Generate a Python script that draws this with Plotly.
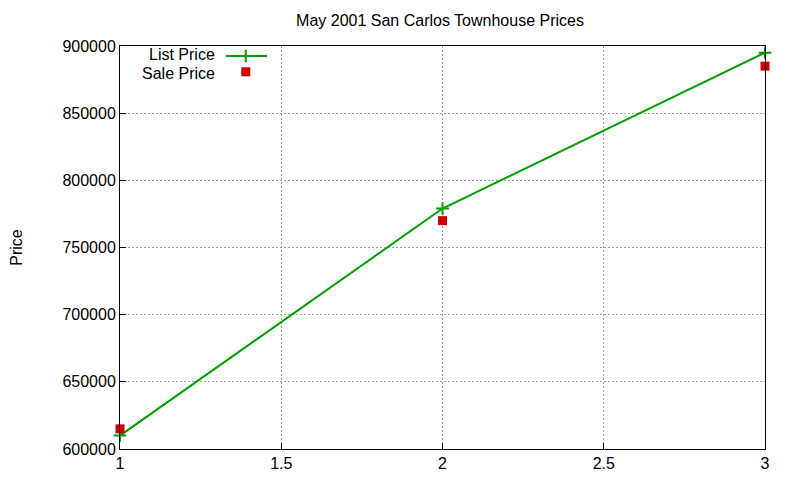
import plotly.graph_objs as go

# data
models = [1, 2, 3]
list_price = [610000, 779000, 895000]
sale_price = [615000, 770000, 885000]

y_ticks = [600000, 650000, 700000, 750000, 800000, 850000, 900000]
x_ticks = [1, 1.5, 2, 2.5, 3]

GREEN = "#00a000"
RED = "#d00000"
FONT = "Liberation Sans, Arial, sans-serif"


def make_axis(**kw):
    axis = dict(
        showline=True,
        linecolor="black",
        linewidth=1,
        mirror=True,
        ticks="inside",
        ticklen=6,
        tickcolor="black",
        showgrid=True,
        gridcolor="#a0a0a0",
        griddash="2px,2px",
        gridwidth=1,
        zeroline=False,
        automargin=False,
        tickfont=dict(size=16, color="black"),
    )
    axis.update(kw)
    return axis


fig = go.Figure()

fig.add_trace(
    go.Scatter(
        x=models,
        y=list_price,
        mode="lines+markers",
        name="List Price",
        line=dict(color=GREEN, width=2),
        marker=dict(symbol="cross-thin", size=9, line=dict(color=GREEN, width=2)),
        cliponaxis=False,
        showlegend=False,
    )
)
fig.add_trace(
    go.Scatter(
        x=models,
        y=sale_price,
        mode="markers",
        name="Sale Price",
        marker=dict(symbol="square", size=9, color=RED),
        cliponaxis=False,
        showlegend=False,
    )
)

# gnuplot-style key: text on the left, sample on the right (drawn on a hidden 0..1 axis)
fig.add_trace(
    go.Scatter(
        x=[0.164, 0.228],
        y=[0.975, 0.975],
        mode="lines",
        line=dict(color=GREEN, width=2),
        xaxis="x2",
        yaxis="y2",
        showlegend=False,
        hoverinfo="skip",
    )
)
fig.add_trace(
    go.Scatter(
        x=[0.195],
        y=[0.975],
        mode="markers",
        marker=dict(symbol="cross-thin", size=9, line=dict(color=GREEN, width=2)),
        xaxis="x2",
        yaxis="y2",
        showlegend=False,
        hoverinfo="skip",
    )
)
fig.add_trace(
    go.Scatter(
        x=[0.195],
        y=[0.936],
        mode="markers",
        marker=dict(symbol="square", size=9, color=RED),
        xaxis="x2",
        yaxis="y2",
        showlegend=False,
        hoverinfo="skip",
    )
)

for text, ypos in [("List Price", 0.978), ("Sale Price", 0.933)]:
    fig.add_annotation(
        text=text,
        x=0.151,
        y=ypos,
        xref="x2",
        yref="y2",
        xanchor="right",
        yanchor="middle",
        showarrow=False,
        font=dict(size=16, color="black", family=FONT),
    )

# the page body adds an 8px offset, so margins are shifted to compensate
fig.update_layout(
    width=800,
    height=480,
    margin=dict(l=112, r=43, t=38, b=39),
    paper_bgcolor="white",
    plot_bgcolor="white",
    font=dict(family=FONT, color="black"),
    title=dict(
        text="May 2001 San Carlos Townhouse Prices",
        x=0.54,
        xanchor="center",
        y=0.975,
        yanchor="middle",
        font=dict(size=16, color="black"),
    ),
    xaxis=make_axis(range=[1, 3], tickvals=x_ticks, ticktext=[str(t) for t in x_ticks]),
    yaxis=make_axis(
        range=[600000, 900000],
        tickvals=y_ticks,
        ticktext=[str(t) for t in y_ticks],
        title=dict(text="Price", font=dict(size=16, color="black"), standoff=57),
    ),
    xaxis2=dict(range=[0, 1], overlaying="x", visible=False),
    yaxis2=dict(range=[0, 1], overlaying="y", visible=False),
    showlegend=False,
)

fig.write_html("out.html")
